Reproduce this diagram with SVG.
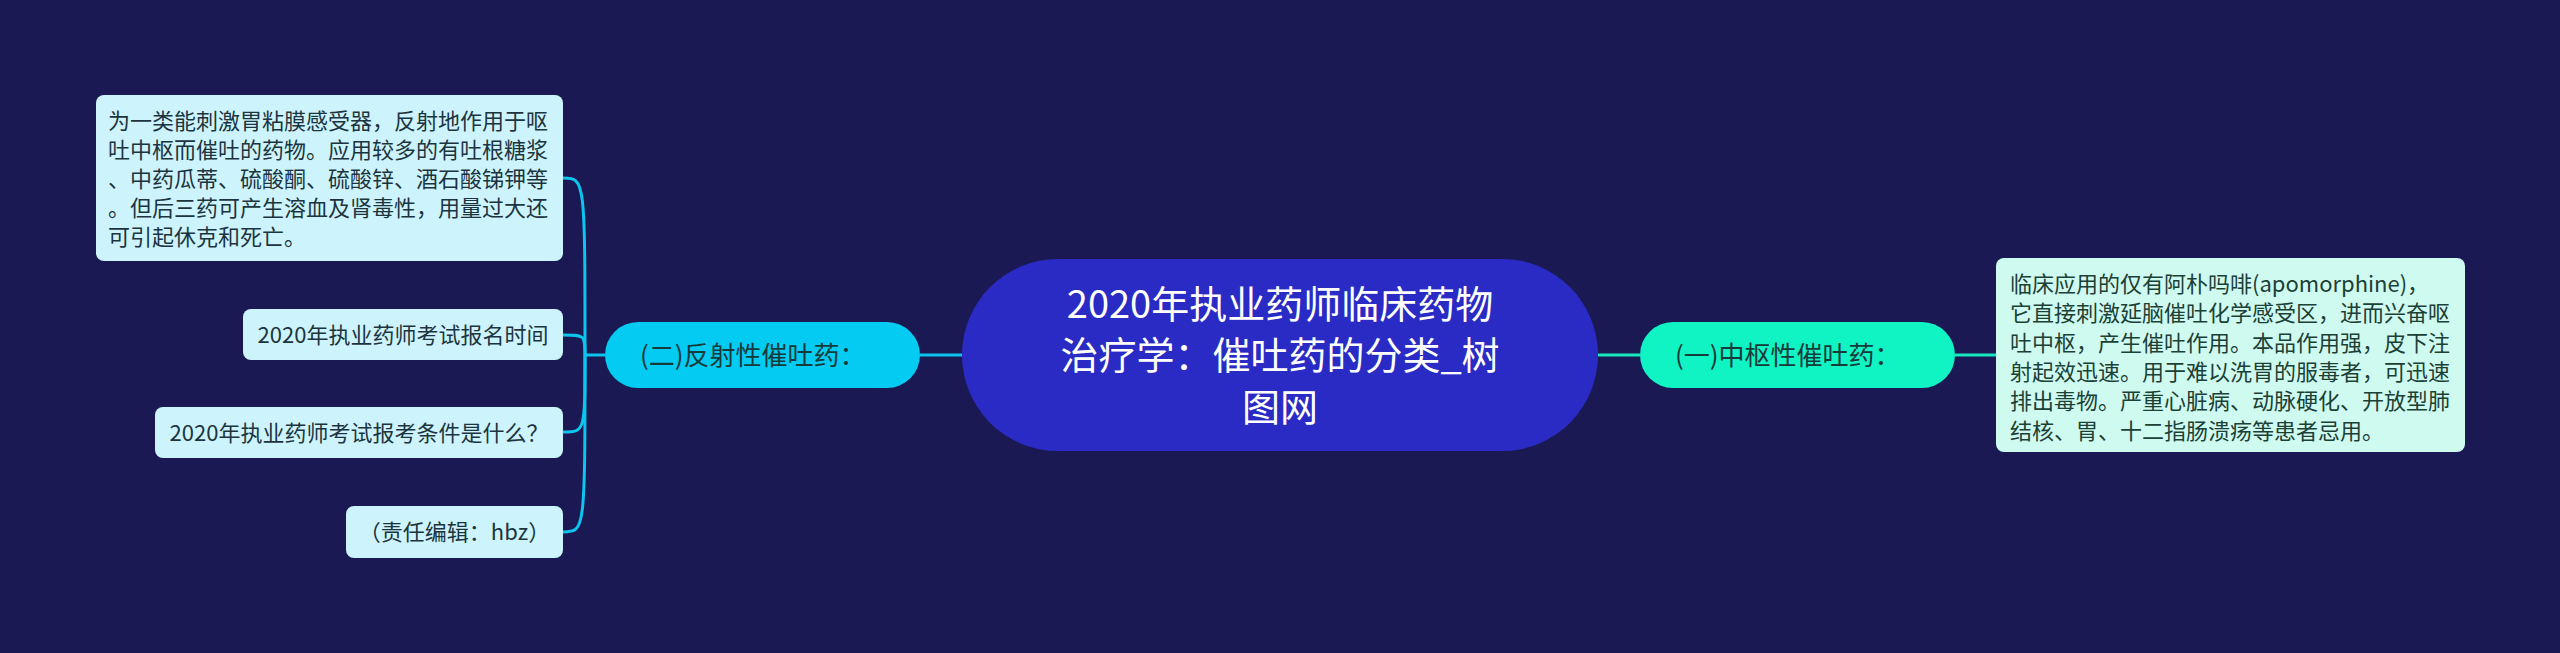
<svg xmlns="http://www.w3.org/2000/svg" width="2560" height="653" viewBox="0 0 2560 653">
<style>
text{font-family:"Noto Sans CJK SC","Noto Sans",sans-serif;}
.leaf{fill:#CDF4FC;}
.leafR{fill:#CFFAF0;}
.lt{font-size:22px;fill:#1C3440;}
.rt{font-size:22px;fill:#1B4036;}
.nt{font-size:26px;fill:#173A3A;}
.ct{font-size:38px;fill:#FFFFFF;text-anchor:middle;}
.cl{fill:none;stroke:#0BC5EE;stroke-width:3;}
.cr{fill:none;stroke:#17E6C0;stroke-width:3;}
</style>
<rect x="0" y="0" width="2560" height="653" fill="#1B1953"/>
<g id="connectors">
<line class="cl" x1="920" y1="355" x2="962" y2="355"/>
<line class="cl" x1="585" y1="355" x2="605" y2="355"/>
<path class="cl" d="M585 355 C585 178 585 178 563 178"/>
<path class="cl" d="M585 355 C585 335 585 335 563 335"/>
<path class="cl" d="M585 355 C585 432 585 432 563 432"/>
<path class="cl" d="M585 355 C585 532 585 532 563 532"/>
<line class="cr" x1="1598" y1="355" x2="1640" y2="355"/>
<line class="cr" x1="1955" y1="355" x2="1996" y2="355"/>
</g>
<g id="center">
<rect x="962" y="259" width="636" height="192" rx="96" fill="#2A2BC5"/>
<text class="ct" x="1280" y="318">2020年执业药师临床药物</text>
<text class="ct" x="1280" y="369">治疗学：催吐药的分类_树</text>
<text class="ct" x="1280" y="421">图网</text>
</g>
<g id="node-central">
<rect x="1640" y="322" width="315" height="66" rx="33" fill="#10F4C4"/>
<text class="nt" x="1675" y="365">(一)中枢性催吐药：</text>
</g>
<g id="leaf-central">
<rect class="leafR" x="1996" y="258" width="469" height="194" rx="8"/>
<text class="rt" x="2010" y="292">临床应用的仅有阿朴吗啡(apomorphine)，</text>
<text class="rt" x="2010" y="321">它直接刺激延脑催吐化学感受区，进而兴奋呕</text>
<text class="rt" x="2010" y="351">吐中枢，产生催吐作用。本品作用强，皮下注</text>
<text class="rt" x="2010" y="380">射起效迅速。用于难以洗胃的服毒者，可迅速</text>
<text class="rt" x="2010" y="409">排出毒物。严重心脏病、动脉硬化、开放型肺</text>
<text class="rt" x="2010" y="439">结核、胃、十二指肠溃疡等患者忌用。</text>
</g>
<g id="node-reflex">
<rect x="605" y="322" width="315" height="66" rx="33" fill="#04CBF2"/>
<text class="nt" x="640" y="365">(二)反射性催吐药：</text>
</g>
<g id="leaf-reflex-desc">
<rect class="leaf" x="96" y="95" width="467" height="166" rx="8"/>
<text class="lt" x="108" y="129">为一类能刺激胃粘膜感受器，反射地作用于呕</text>
<text class="lt" x="108" y="158">吐中枢而催吐的药物。应用较多的有吐根糖浆</text>
<text class="lt" x="108" y="187">、中药瓜蒂、硫酸酮、硫酸锌、酒石酸锑钾等</text>
<text class="lt" x="108" y="216">。但后三药可产生溶血及肾毒性，用量过大还</text>
<text class="lt" x="108" y="245">可引起休克和死亡。</text>
</g>
<g id="leaf-time">
<rect class="leaf" x="243" y="309" width="320" height="51" rx="8"/>
<text class="lt" x="403" y="343" text-anchor="middle">2020年执业药师考试报名时间</text>
</g>
<g id="leaf-cond">
<rect class="leaf" x="155" y="407" width="408" height="51" rx="8"/>
<text class="lt" x="359" y="441" text-anchor="middle">2020年执业药师考试报考条件是什么？</text>
</g>
<g id="leaf-editor">
<rect class="leaf" x="346" y="506" width="217" height="52" rx="8"/>
<text class="lt" x="454.5" y="540" text-anchor="middle">（责任编辑：hbz）</text>
</g>
</svg>
